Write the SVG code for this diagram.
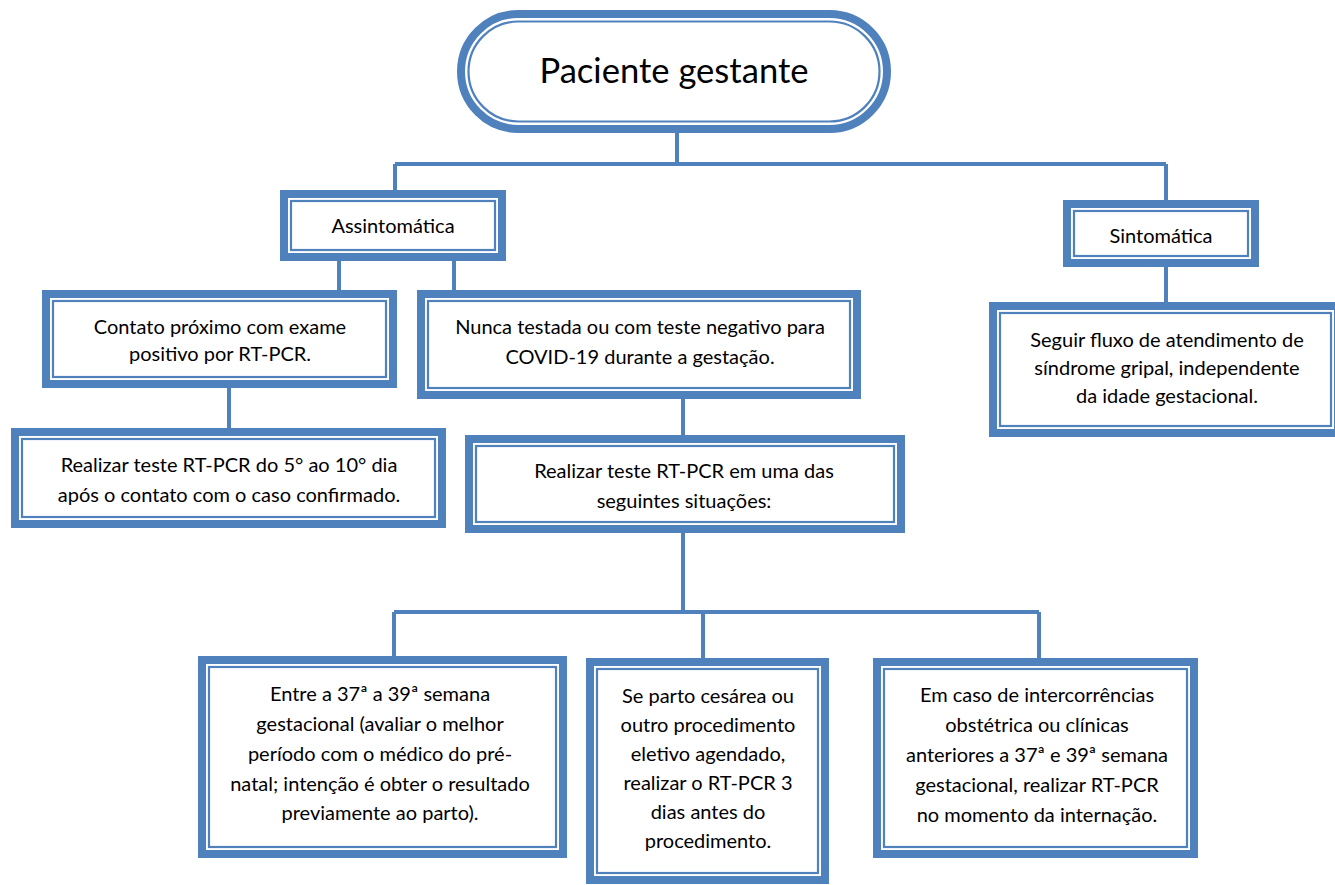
<svg xmlns="http://www.w3.org/2000/svg" width="1335" height="885" viewBox="0 0 1335 885">
<style>
.o{fill:#fff;stroke:#4F81BD;stroke-width:8}
.i{fill:none;stroke:#4F81BD;stroke-width:2.2}
.c{fill:none;stroke:#4F81BD;stroke-width:4}
text{font-family:Lato,"Liberation Sans",sans-serif;font-size:20px;fill:#000;text-anchor:middle}
.t{font-size:34.6px}
</style>
<rect width="1335" height="885" fill="#fff"/>
<g id="connectors">
<path class="c" d="M677,133V164M395,164H1166M395,164V190M1166,164V200M339,261V290M454,261V290M229,388V428M683,399V435M1166,267V302M683,533V612M394,612H1039M394,612V656M703,612V658M1039,612V658"/>
</g>
<g id="root">
<rect class="o" x="461" y="14" width="426" height="115" rx="57.5"/>
<rect class="i" x="468.5" y="21.5" width="411" height="100" rx="50"/>
<text class="t" x="674" y="83">Paciente gestante</text>
</g>
<g id="assintomatica">
<rect class="o" x="284" y="194" width="218" height="63"/>
<rect class="i" x="291" y="201" width="204" height="49"/>
<text x="393" y="233">Assintomática</text>
</g>
<g id="sintomatica">
<rect class="o" x="1067" y="204" width="188" height="59"/>
<rect class="i" x="1074" y="211" width="174" height="45"/>
<text x="1161" y="243">Sintomática</text>
</g>
<g id="contato">
<rect class="o" x="46" y="294" width="347" height="90"/>
<rect class="i" x="53" y="301" width="333" height="76"/>
<text x="220" y="334">Contato próximo com exame</text>
<text x="220" y="361">positivo por RT-PCR.</text>
</g>
<g id="nunca">
<rect class="o" x="421" y="294" width="436" height="101"/>
<rect class="i" x="428" y="301" width="422" height="87"/>
<text x="640" y="334">Nunca testada ou com teste negativo para</text>
<text x="640" y="364">COVID-19 durante a gestação.</text>
</g>
<g id="seguir">
<rect class="o" x="993" y="306" width="345" height="127"/>
<rect class="i" x="1000" y="313" width="331" height="113"/>
<text x="1167" y="347">Seguir fluxo de atendimento de</text>
<text x="1167" y="375">síndrome gripal, independente</text>
<text x="1167" y="403">da idade gestacional.</text>
</g>
<g id="realizar5">
<rect class="o" x="15" y="432" width="427" height="92"/>
<rect class="i" x="22" y="439" width="413" height="78"/>
<text x="229" y="472">Realizar teste RT-PCR do 5° ao 10° dia</text>
<text x="229" y="502">após o contato com o caso confirmado.</text>
</g>
<g id="realizar">
<rect class="o" x="469" y="439" width="432" height="90"/>
<rect class="i" x="476" y="446" width="418" height="76"/>
<text x="684" y="478">Realizar teste RT-PCR em uma das</text>
<text x="684" y="508">seguintes situações:</text>
</g>
<g id="entre">
<rect class="o" x="202" y="660" width="361" height="194"/>
<rect class="i" x="209" y="667" width="347" height="180"/>
<text x="380" y="701">Entre a 37ª a 39ª semana</text>
<text x="380" y="731">gestacional (avaliar o melhor</text>
<text x="380" y="761">período com o médico do pré-</text>
<text x="380" y="791">natal; intenção é obter o resultado</text>
<text x="380" y="820">previamente ao parto).</text>
</g>
<g id="separto">
<rect class="o" x="590" y="662" width="235" height="218"/>
<rect class="i" x="597" y="669" width="221" height="204"/>
<text x="708" y="703">Se parto cesárea ou</text>
<text x="708" y="732">outro procedimento</text>
<text x="708" y="761">eletivo agendado,</text>
<text x="708" y="790">realizar o RT-PCR 3</text>
<text x="708" y="819">dias antes do</text>
<text x="708" y="848">procedimento.</text>
</g>
<g id="emcaso">
<rect class="o" x="877" y="662" width="317" height="192"/>
<rect class="i" x="884" y="669" width="303" height="178"/>
<text x="1037" y="702">Em caso de intercorrências</text>
<text x="1037" y="732">obstétrica ou clínicas</text>
<text x="1037" y="762">anteriores a 37ª e 39ª semana</text>
<text x="1037" y="792">gestacional, realizar RT-PCR</text>
<text x="1037" y="822">no momento da internação.</text>
</g>
</svg>
